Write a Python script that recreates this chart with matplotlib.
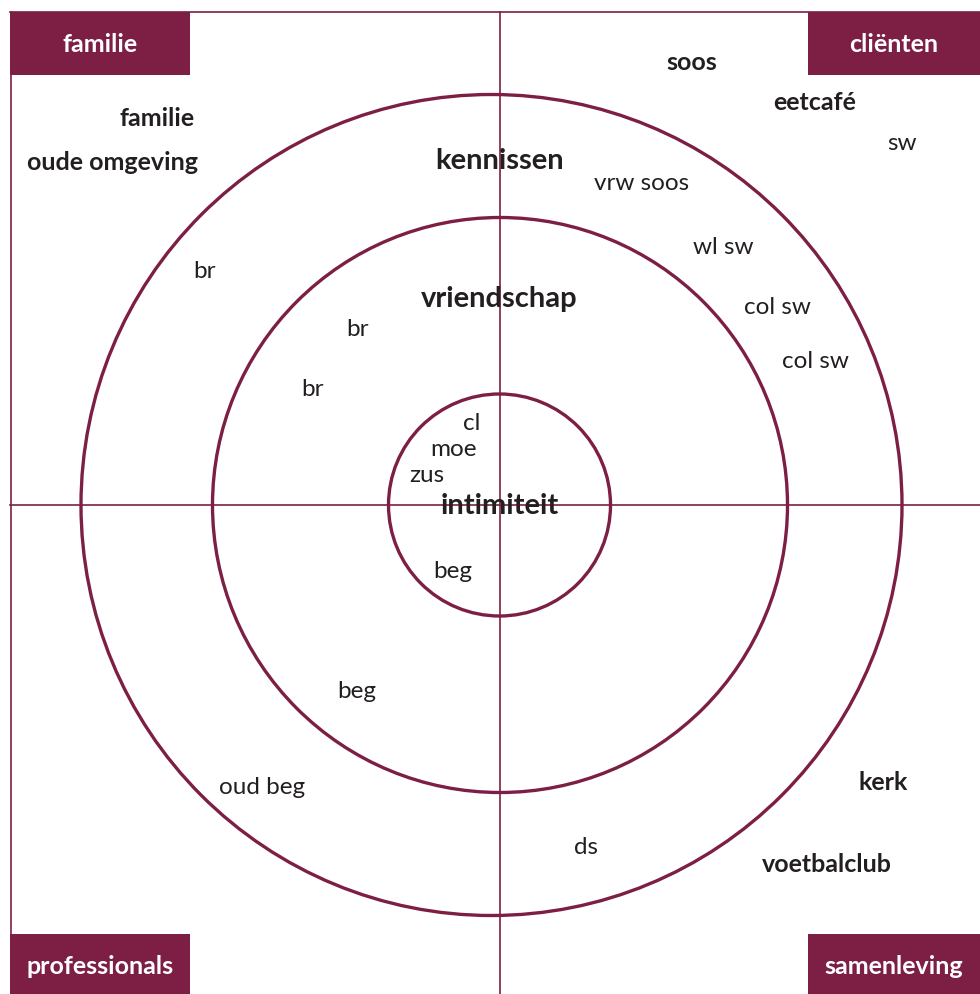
import matplotlib.pyplot as plt
from matplotlib.patches import Circle, Rectangle

# kleuren
wijn = "#7d1f45"
tekst = "#231f20"

# cirkels (middelpunt en straal, in pixels van de afbeelding)
ring_namen = ["intimiteit", "vriendschap", "kennissen"]
ring_x = [499.5, 500, 491.5]
ring_y = [505, 505, 505]
ring_r = [111, 287.5, 410.5]
ring_label_y = [506, 299, 161]

# hoekvakken
hoek_namen = ["familie", "cliënten", "professionals", "samenleving"]
hoek_x = [10, 808, 10, 808]
hoek_y = [12, 12, 934, 934]
hoek_b = [180, 172, 180, 172]
hoek_h = [63, 63, 60, 60]
hoek_label_y = [44, 44, 967, 967]

# netwerk: vetgedrukte groepen
groep_namen = ["familie", "oude omgeving", "soos", "eetcafé", "kerk", "voetbalclub"]
groep_x = [157, 112, 692, 815, 883, 827]
groep_y = [119, 162, 63, 103, 783, 864]

# netwerk: personen
persoon_namen = ["sw", "vrw soos", "wl sw", "col sw", "col sw", "br", "br", "br",
                 "cl", "moe", "zus", "beg", "beg", "oud beg", "ds"]
persoon_x = [902, 642, 723, 777, 815, 204, 357, 312, 472, 453, 427, 453, 357, 262, 586]
persoon_y = [144, 184, 247, 307, 362, 271, 330, 389, 424, 450, 475, 571, 691, 787, 848]


def teken():
    plt.rcParams["font.family"] = ["Lato", "DejaVu Sans"]
    fig = plt.figure(figsize=(9.8, 9.94), dpi=100)
    ax = fig.add_axes([0, 0, 1, 1])
    ax.set_xlim(0, 980)
    ax.set_ylim(994, 0)
    ax.axis("off")

    # kader en assen
    ax.plot([10, 980], [12, 12], color=wijn, lw=1.2)
    ax.plot([10.5, 10.5], [12, 934], color=wijn, lw=1.2)
    ax.plot([10, 980], [504.5, 504.5], color=wijn, lw=1.2)
    ax.plot([499.5, 499.5], [12, 994], color=wijn, lw=1.2)

    for x, y, r in zip(ring_x, ring_y, ring_r):
        ax.add_patch(Circle((x, y), r, fill=False, ec=wijn, lw=2.4))

    for naam, x, y, b, h, ly in zip(hoek_namen, hoek_x, hoek_y, hoek_b, hoek_h, hoek_label_y):
        ax.add_patch(Rectangle((x, y), b, h, color=wijn, lw=0))
        ax.text(x + b / 2, ly, naam, color="white", fontsize=18,
                fontweight="bold", ha="center", va="center")

    for naam, y in zip(ring_namen, ring_label_y):
        ax.text(499.5, y, naam, color=tekst, fontsize=21, fontweight="bold",
                ha="center", va="center")

    for naam, x, y in zip(groep_namen, groep_x, groep_y):
        ax.text(x, y, naam, color=tekst, fontsize=18, fontweight="bold",
                ha="center", va="center")

    for naam, x, y in zip(persoon_namen, persoon_x, persoon_y):
        ax.text(x, y, naam, color=tekst, fontsize=17.5, ha="center", va="center")

    fig.savefig("out.png", dpi=100)


if __name__ == "__main__":
    teken()
